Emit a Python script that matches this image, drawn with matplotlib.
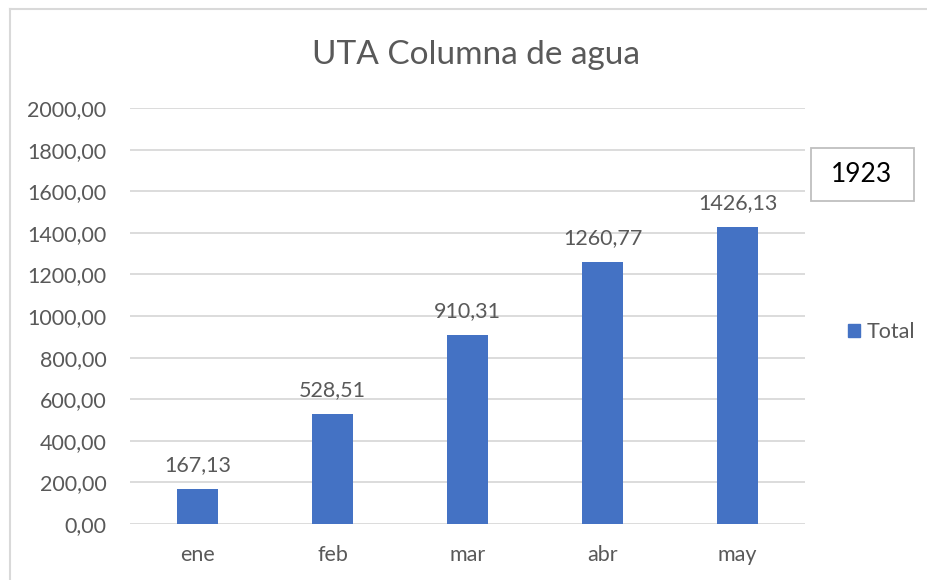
import matplotlib
matplotlib.use("Agg")
import matplotlib.pyplot as plt
import numpy as np
from matplotlib.lines import Line2D
from matplotlib.patches import Rectangle

plt.rcParams["font.family"] = ["Lato", "DejaVu Sans"]

# data
MONTHS = ["ene", "feb", "mar", "abr", "may"]
TOTAL = [167.13, 528.51, 910.31, 1260.77, 1426.13]
Y_TICKS = [0, 200, 400, 600, 800, 1000, 1200, 1400, 1600, 1800, 2000]
BOX_VALUE = "1923"

BAR_COLOR = "#4472C4"
TEXT_COLOR = "#595959"
GRID_COLOR = "#D9D9D9"


def fmt(v):
    return f"{v:.2f}".replace(".", ",")


fig = plt.figure(figsize=(9.27, 5.8), dpi=100)
ax = fig.add_axes([130 / 927, 56 / 580, 675 / 927, 416 / 580])

x = np.arange(len(MONTHS))
bars = ax.bar(x, TOTAL, width=0.31, color=BAR_COLOR, zorder=3, label="Total")
for b, v in zip(bars, TOTAL):
    ax.annotate(fmt(v), (b.get_x() + b.get_width() / 2, v), xytext=(0, 10),
                textcoords="offset points", ha="center", va="bottom",
                fontsize=15.5, color=TEXT_COLOR)

ax.set_xlim(-0.5, len(MONTHS) - 0.5)
ax.set_ylim(0, 2000)
ax.set_yticks(Y_TICKS)
ax.set_yticklabels([fmt(t) for t in Y_TICKS])
ax.set_xticks(x)
ax.set_xticklabels(MONTHS)
ax.tick_params(axis="both", length=0, labelsize=15.5, labelcolor=TEXT_COLOR)
ax.tick_params(axis="y", pad=17)
ax.tick_params(axis="x", pad=15)
ax.grid(axis="y", color=GRID_COLOR, linewidth=1.3, zorder=0)
for s in ax.spines.values():
    s.set_visible(False)

fig.text(476 / 927, 1 - 55 / 580, "UTA Columna de agua", ha="center", va="center",
         fontsize=24, color=TEXT_COLOR)

# legend
ax.legend(handles=[Rectangle((0, 0), 1, 1, color=BAR_COLOR)], labels=["Total"],
          loc="center left", bbox_to_anchor=(829 / 927, 1 - 332 / 580),
          bbox_transform=fig.transFigure, frameon=False, fontsize=15.5,
          labelcolor=TEXT_COLOR, handlelength=0.55, handleheight=0.55,
          handletextpad=0.3)

# value box
fig.patches.append(Rectangle((811 / 927, 1 - 201 / 580), 103 / 927, 53 / 580,
                             transform=fig.transFigure, facecolor="white",
                             edgecolor="#BFBFBF", linewidth=1.3))
fig.text(862 / 927, 1 - 175 / 580, BOX_VALUE, ha="center", va="center",
         fontsize=19, color="black")

# chart border (top and left visible)
fig.add_artist(Line2D([10 / 927, 1], [1 - 9 / 580, 1 - 9 / 580],
                      color="#D9D9D9", linewidth=1.5, transform=fig.transFigure))
fig.add_artist(Line2D([10 / 927, 10 / 927], [0, 1 - 9 / 580],
                      color="#D9D9D9", linewidth=1.5, transform=fig.transFigure))

fig.savefig("out.png", dpi=100)
